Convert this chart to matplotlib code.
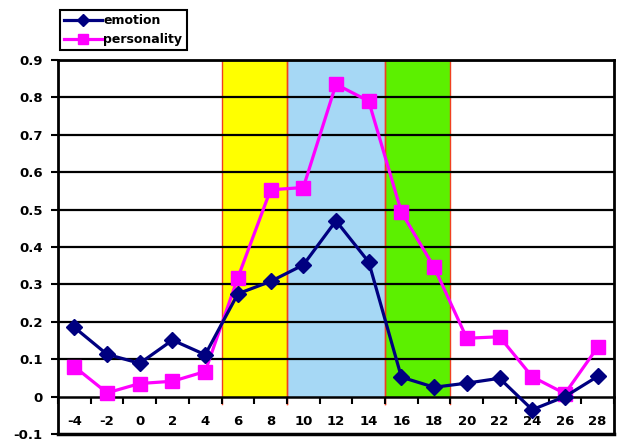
import matplotlib
matplotlib.use("Agg")
import matplotlib.pyplot as plt
from matplotlib.ticker import FixedLocator

plt.rcParams['font.family'] = ['DejaVu Sans']
plt.rcParams['axes.unicode_minus'] = False

x = [-4, -2, 0, 2, 4, 6, 8, 10, 12, 14, 16, 18, 20, 22, 24, 26, 28]
emotion = [0.185, 0.113, 0.089, 0.151, 0.112, 0.275, 0.308, 0.352, 0.470, 0.360,
           0.052, 0.025, 0.036, 0.049, -0.035, 0.0, 0.054]
personality = [0.080, 0.010, 0.035, 0.041, 0.067, 0.318, 0.553, 0.559, 0.835, 0.790,
               0.493, 0.346, 0.156, 0.160, 0.053, 0.008, 0.132]
bands = [(5, 9, '#FFFF00'), (9, 15, '#A6D8F5'), (15, 19, '#5CF000')]
yticks = [-0.1, 0, 0.1, 0.2, 0.3, 0.4, 0.5, 0.6, 0.7, 0.8, 0.9]
ytick_labels = ['-0.1', '0', '0.1', '0.2', '0.3', '0.4', '0.5', '0.6', '0.7', '0.8', '0.9']

fig = plt.figure(figsize=(6.18, 4.43), dpi=100)
ax = fig.add_axes([58/618, 1-434/443, (614-58)/618, (434-60)/443])
ax.set_xlim(-5, 29)
ax.set_ylim(-0.1, 0.9)

for x0, x1, c in bands:
    ax.fill_between([x0, x1], 0, 0.9, color=c, zorder=0, linewidth=0)
    ax.axvline(x0, ymin=0.08, ymax=1, color='#F04020', lw=1, zorder=1)
    ax.axvline(x1, ymin=0.08, ymax=1, color='#F04020', lw=1, zorder=1)

for yv in yticks[2:]:
    ax.axhline(yv, color='black', lw=1.6, zorder=2)

ax.plot(x, personality, color='#FF00FF', lw=2.3, marker='s', markersize=10,
        label='personality', zorder=4)
ax.plot(x, emotion, color='#000080', lw=2.3, marker='D', markersize=8.5,
        label='emotion', zorder=5)

ax.spines['bottom'].set_position(('data', 0))
ax.spines['bottom'].set_linewidth(1.8)
for s in ['left', 'right', 'top']:
    ax.spines[s].set_linewidth(2)
ax.plot([0, 1], [0, 0], transform=ax.transAxes, color='black', lw=2.5, clip_on=False, zorder=6)

ax.xaxis.set_major_locator(FixedLocator(list(range(-5, 30, 2))))
ax.xaxis.set_minor_locator(FixedLocator(x))
ax.tick_params(axis='x', which='major', length=5, width=1.5, direction='out', labelbottom=False)
ax.tick_params(axis='x', which='minor', length=0, pad=13, labelsize=9.5)
ax.set_xticklabels([str(v) for v in x], minor=True, fontweight='bold')

ax.set_yticks(yticks)
ax.set_yticklabels(ytick_labels, fontweight='bold', fontsize=9.5)
ax.tick_params(axis='y', length=5, width=1.5, direction='out', pad=6)

handles, labels = ax.get_legend_handles_labels()
leg = fig.legend(handles[::-1], labels[::-1], loc='upper left',
                 bbox_to_anchor=(60/618, 1-10/443), borderaxespad=0,
                 fancybox=False, framealpha=1, edgecolor='black',
                 prop={'weight': 'bold', 'size': 9}, handlelength=3.0,
                 handletextpad=0.1, borderpad=0.35, labelspacing=0.45,
                 markerscale=0.7)
leg.get_frame().set_linewidth(1.5)

fig.savefig('out.png', dpi=100)
